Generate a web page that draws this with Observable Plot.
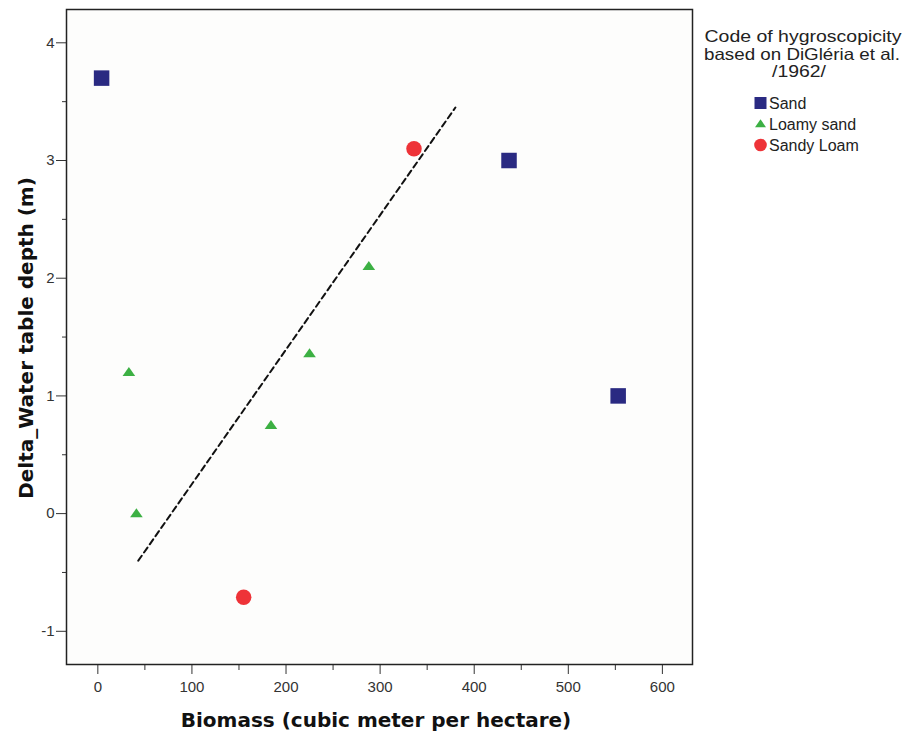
<!DOCTYPE html>
<html><head><meta charset="utf-8">
<script src="https://cdn.jsdelivr.net/npm/d3@7"></script>
<script src="https://cdn.jsdelivr.net/npm/@observablehq/plot@0.6"></script>
<style>body{margin:0;background:#fff;} #chart{width:907px;height:736px;}</style>
</head><body><div id="chart"></div>
<script>
// ---- data ----
const sandX = [4, 437, 553];
const sandY = [3.7, 3.0, 1.0];
const loamySandX = [33, 41, 184, 225, 288];
const loamySandY = [1.2, 0.0, 0.75, 1.36, 2.1];
const sandyLoamX = [336, 155];
const sandyLoamY = [3.1, -0.71];
const fitX = [43, 380];
const fitY = [-0.4, 3.45];
const xTicks = [0, 100, 200, 300, 400, 500, 600];
const xMinorTicks = [50, 150, 250, 350, 450, 550];
const yTicks = [-1, 0, 1, 2, 3, 4];
const yMinorTicks = [-0.5, 0.5, 1.5, 2.5, 3.5];
const seriesNames = ["Sand", "Loamy sand", "Sandy Loam"];
const seriesColors = ["#2a2a82", "#3cb043", "#ee3338"];
const legendTitle = ["Code of hygroscopicity", "based on DiGléria et al.", "/1962/"];
const xLabel = "Biomass (cubic meter per hectare)";
const yLabel = "Delta_Water table depth (m)";

const zip = (xs, ys) => xs.map((x, i) => ({x, y: ys[i]}));
const sand = zip(sandX, sandY);
const loamy = zip(loamySandX, loamySandY);
const sandyLoam = zip(sandyLoamX, sandyLoamY);
const fit = zip(fitX, fitY);

const flatTriangle = {draw(ctx, size) {
  const r = Math.sqrt(size / Math.PI);
  ctx.moveTo(0, -r * 1.2); ctx.lineTo(r * 1.4, r * 0.8); ctx.lineTo(-r * 1.4, r * 0.8); ctx.closePath();
}};
const fmt = d => String(d);

const chart = Plot.plot({
  width: 907, height: 736,
  marginLeft: 66, marginRight: 215, marginTop: 9, marginBottom: 72,
  style: {fontFamily: "'Liberation Sans', Arial, sans-serif", fontSize: "15px", background: "#fff", color: "#333"},
  x: {domain: [-33.3, 632]},
  y: {domain: [-1.282, 4.283]},
  marks: [
    Plot.frame({fill: "#fdfdfc"}),
    Plot.axisX(xMinorTicks, {tickSize: 6, text: null, label: null, stroke: "#333"}),
    Plot.axisY(yMinorTicks, {tickSize: 4, text: null, label: null, stroke: "#333"}),
    Plot.axisX(xTicks, {tickSize: 10, tickPadding: 7, label: null, stroke: "#333", fill: "#333", fontSize: 15, tickFormat: fmt}),
    Plot.axisY(yTicks, {tickSize: 10, tickPadding: 2, label: null, stroke: "#333", fill: "#333", fontSize: 15, tickFormat: fmt}),
    Plot.frame({stroke: "#222", strokeWidth: 1.5}),
    Plot.line(fit, {x: "x", y: "y", stroke: "#111", strokeWidth: 2, strokeDasharray: "6,4"}),
    Plot.dot(sand, {x: "x", y: "y", symbol: "square", r: 8.75, fill: seriesColors[0]}),
    Plot.dot(loamy, {x: "x", y: "y", symbol: flatTriangle, r: 4.5, fill: seriesColors[1]}),
    Plot.dot(sandyLoam, {x: "x", y: "y", symbol: "circle", r: 7.75, fill: seriesColors[2]})
  ]
});
document.getElementById("chart").appendChild(chart);

const svg = d3.select(chart);
// axis titles
svg.append("text").attr("x", 376).attr("y", 727).attr("text-anchor", "middle")
  .attr("font-family", "'DejaVu Sans', sans-serif").attr("font-weight", "bold").attr("font-size", 20)
  .attr("fill", "#111").text(xLabel);
svg.append("text").attr("transform", "translate(33,338) rotate(-90)").attr("text-anchor", "middle")
  .attr("font-family", "'DejaVu Sans', sans-serif").attr("font-weight", "bold").attr("font-size", 20)
  .attr("fill", "#111").text(yLabel);

// legend
const titleLens = [197, 196, 54];
const titleX = [803, 802, 799];
legendTitle.forEach((t, i) => {
  svg.append("text").attr("x", titleX[i]).attr("y", 42 + i * 17.5).attr("text-anchor", "middle")
    .attr("font-family", "'Liberation Sans', Arial, sans-serif").attr("font-size", 16.5)
    .attr("textLength", titleLens[i]).attr("lengthAdjust", "spacingAndGlyphs")
    .attr("fill", "#222").text(t);
});
const legendSymbols = [d3.symbol(d3.symbolSquare, 144), d3.symbol(flatTriangle, Math.PI * 3.93 * 3.93), d3.symbol(d3.symbolCircle, Math.PI * 6.3 * 6.3)];
const legendY = [103, 124, 145];
seriesNames.forEach((name, i) => {
  svg.append("path").attr("transform", `translate(760.5,${legendY[i]})`).attr("d", legendSymbols[i]()).attr("fill", seriesColors[i]);
  svg.append("text").attr("x", 769).attr("y", legendY[i] + 6).attr("text-anchor", "start")
    .attr("font-family", "'Liberation Sans', Arial, sans-serif")
    .attr("font-size", 16).attr("fill", "#222").text(name);
});
</script></body></html>
